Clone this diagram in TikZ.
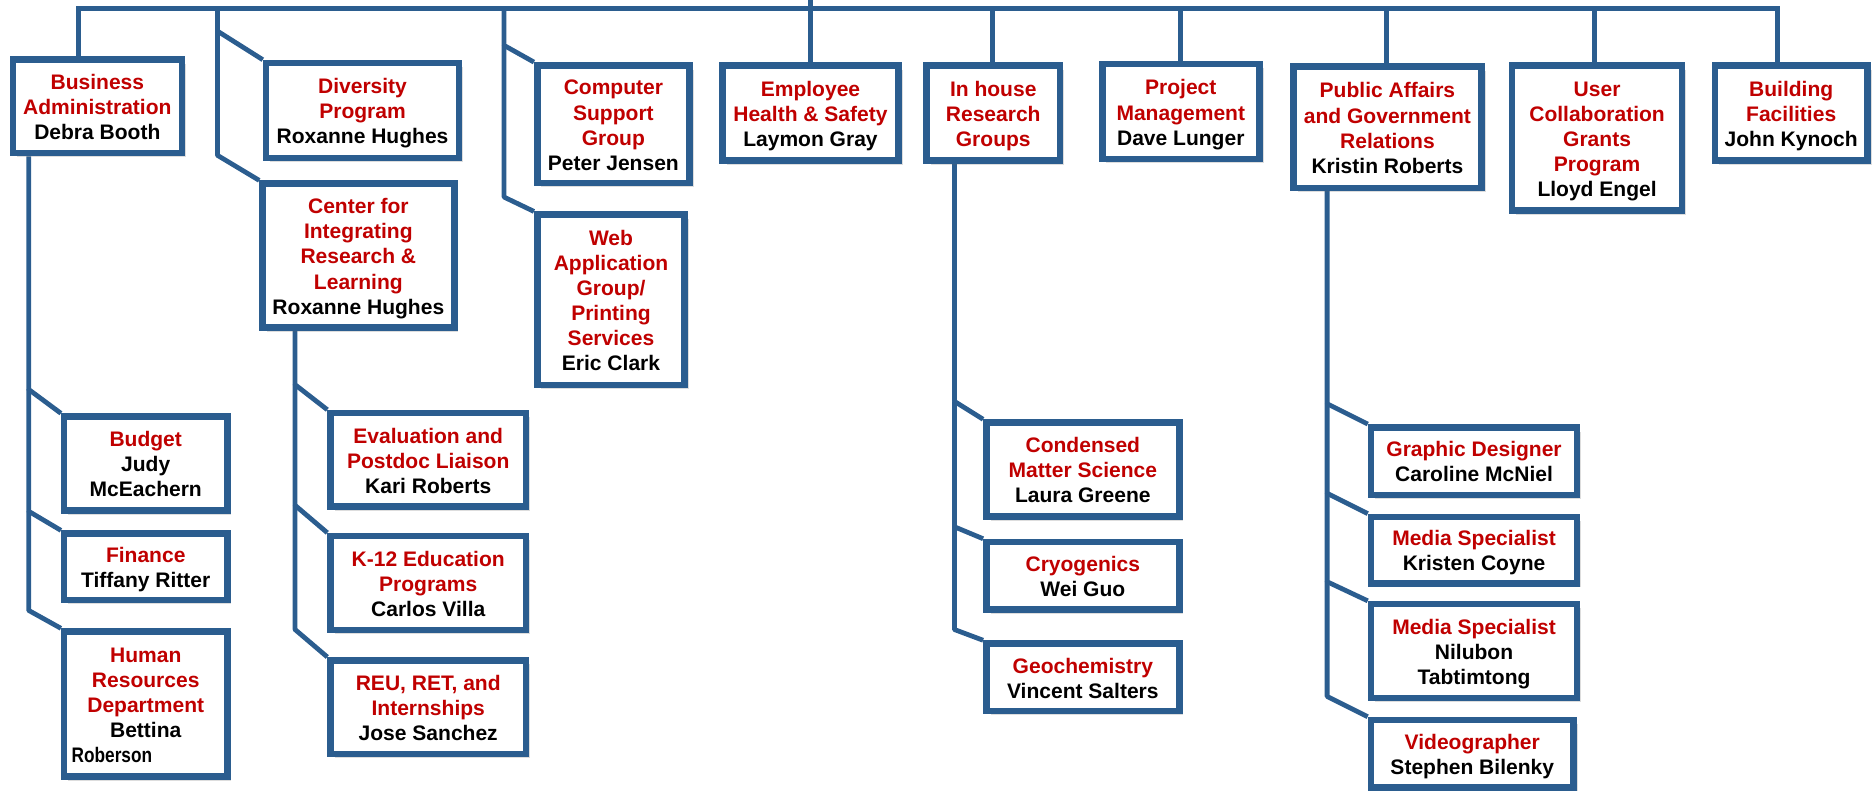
\documentclass[tikz,border=0pt]{standalone}
\usepackage{fontspec}
\setmainfont{Liberation Sans}
\usepackage{graphicx}
\usetikzlibrary{shadows,backgrounds}
\definecolor{tred}{HTML}{C00000}
\definecolor{tblue}{HTML}{2B5D8F}
\newcommand{\redtx}[1]{\textcolor{tred}{#1}}
\newcommand{\orgbox}[6]{\node[orgnode,minimum width={#4pt-#2pt-5.5pt},minimum height={#5pt-#3pt-5.5pt}] (#1) at ({(#2+#4)/2},{(#3+#5)/2}) {\rule{0pt}{18pt}#6\rule[-4pt]{0pt}{0pt}};}
\begin{document}
\begin{tikzpicture}[x=1pt,y=-1pt,
  orgnode/.style={draw=tblue,line width=5.5pt,fill=white,inner sep=0pt,align=center,
    font=\fontsize{17.6}{21}\selectfont\bfseries,text=black,
    drop shadow={shadow xshift=3.5pt,shadow yshift=-3.5pt,opacity=0.22,fill=black!60}},
  conn/.style={draw=tblue,line width=4pt,line join=round}]
\useasboundingbox (0,0) rectangle (1568,662);

% top level
\orgbox{ba}{8}{47}{155}{131}{\redtx{Business}\\\redtx{Administration}\\Debra Booth}
\orgbox{div}{220}{50}{387}{135}{\redtx{Diversity}\\\redtx{Program}\\Roxanne Hughes}
\orgbox{cirl}{217}{151}{383}{277}{\redtx{Center for}\\\redtx{Integrating}\\\redtx{Research \&}\\\redtx{Learning}\\Roxanne Hughes}
\orgbox{csg}{447}{52}{580}{156}{\redtx{Computer}\\\redtx{Support}\\\redtx{Group}\\Peter Jensen}
\orgbox{web}{447}{177}{576}{325}{\redtx{Web}\\\redtx{Application}\\\redtx{Group/}\\\redtx{Printing}\\\redtx{Services}\\Eric Clark}
\orgbox{emp}{602}{52}{755}{137}{\redtx{Employee}\\\redtx{Health \& Safety}\\Laymon Gray}
\orgbox{inh}{773}{52}{890}{137}{\redtx{In house}\\\redtx{Research}\\\redtx{Groups}}
\orgbox{pm}{920}{51}{1057}{136}{\redtx{Project}\\\redtx{Management}\\Dave Lunger}
\orgbox{pa}{1080}{53}{1243}{160}{\redtx{Public Affairs}\\\redtx{and Government}\\\redtx{Relations}\\Kristin Roberts}
\orgbox{ucg}{1263}{52}{1411}{179}{\redtx{User}\\\redtx{Collaboration}\\\redtx{Grants}\\\redtx{Program}\\Lloyd Engel}
\orgbox{bf}{1433}{52}{1566}{137}{\redtx{Building}\\\redtx{Facilities}\\John Kynoch}

% second level
\orgbox{bud}{51}{346}{193}{430}{\redtx{Budget}\\Judy\\McEachern}
\orgbox{fin}{51}{444}{193}{505}{\redtx{Finance}\\Tiffany Ritter}
\orgbox{hr}{51}{526}{193}{653}{\redtx{Human}\\\redtx{Resources}\\\redtx{Department}\\Bettina\\\makebox[130pt][l]{\hspace*{3pt}\scalebox{0.82}[1]{Roberson}}}
\orgbox{eva}{274}{343}{443}{427}{\redtx{Evaluation and}\\\redtx{Postdoc Liaison}\\Kari Roberts}
\orgbox{k12}{274}{446}{443}{530}{\redtx{K-12 Education}\\\redtx{Programs}\\Carlos Villa}
\orgbox{reu}{274}{550}{443}{634}{\redtx{REU, RET, and}\\\redtx{Internships}\\Jose Sanchez}
\orgbox{cms}{823}{351}{990}{435}{\redtx{Condensed}\\\redtx{Matter Science}\\Laura Greene}
\orgbox{cry}{823}{451}{990}{513}{\redtx{Cryogenics}\\Wei Guo}
\orgbox{geo}{823}{536}{990}{598}{\redtx{Geochemistry}\\Vincent Salters}
\orgbox{gd}{1145}{355}{1323}{417}{\redtx{Graphic Designer}\\Caroline McNiel}
\orgbox{ms1}{1145}{430}{1323}{491}{\redtx{Media Specialist}\\Kristen Coyne}
\orgbox{ms2}{1145}{503}{1323}{587}{\redtx{Media Specialist}\\Nilubon\\Tabtimtong}
\orgbox{vid}{1145}{600}{1320}{662}{\redtx{Videographer}\\Stephen Bilenky}

\begin{scope}[on background layer]
\coordinate (tba) at (66,7);
\coordinate (tdv) at (182,7);
\coordinate (tcs) at (422,7);
\coordinate (tem) at (679,0);
\coordinate (tin) at (831,7);
\coordinate (tpm) at (988,7);
\coordinate (tpa) at (1161,7);
\coordinate (tuc) at (1335,7);
\coordinate (tbf) at (1488,7);

\draw[conn,line join=miter] (ba.north -| tba) -- (tba) -- (tbf) -- (bf.north -| tbf);
\coordinate (dv1) at (182,26);
\coordinate (dv2) at (182,130);
\draw[conn] (tdv) -- (dv1) -- (div.north west);
\draw[conn] (dv1) -- (dv2) -- (cirl.north west);
\coordinate (cs1) at (422,38);
\coordinate (cs2) at (422,165);
\draw[conn] (tcs) -- (cs1) -- (csg.north west);
\draw[conn] (cs1) -- (cs2) -- (web.north west);
\draw[conn] (emp.north |- tem) -- (emp.north);
\draw[conn] (tin) -- (inh.north -| tin);
\draw[conn] (tpm) -- (pm.north -| tpm);
\draw[conn] (tpa) -- (pa.north -| tpa);
\draw[conn] (tuc) -- (ucg.north -| tuc);

% Business Administration subtree
\coordinate (b0) at (24,120);
\coordinate (b1) at (24,326);
\coordinate (b2) at (24,428);
\coordinate (b3) at (24,511);
\draw[conn] (ba.south -| b0) -- (b1) -- (bud.north west);
\draw[conn] (b1) -- (b2) -- (fin.north west);
\draw[conn] (b2) -- (b3) -- (hr.north west);

% Center subtree
\coordinate (c0) at (247,260);
\coordinate (c1) at (247,322);
\coordinate (c2) at (247,423);
\coordinate (c3) at (247,527);
\draw[conn] (cirl.south -| c0) -- (c1) -- (eva.north west);
\draw[conn] (c1) -- (c2) -- (k12.north west);
\draw[conn] (c2) -- (c3) -- (reu.north west);

% In house subtree
\coordinate (i0) at (799,130);
\coordinate (i1) at (799,336);
\coordinate (i2) at (799,441);
\coordinate (i3) at (799,527);
\draw[conn] (inh.south -| i0) -- (i1) -- (cms.north west);
\draw[conn] (i1) -- (i2) -- (cry.north west);
\draw[conn] (i2) -- (i3) -- (geo.north west);

% Public affairs subtree
\coordinate (p0) at (1111,150);
\coordinate (p1) at (1111,338);
\coordinate (p2) at (1111,413);
\coordinate (p3) at (1111,487);
\coordinate (p4) at (1111,583);
\draw[conn] (pa.south -| p0) -- (p1) -- (gd.north west);
\draw[conn] (p1) -- (p2) -- (ms1.north west);
\draw[conn] (p2) -- (p3) -- (ms2.north west);
\draw[conn] (p3) -- (p4) -- (vid.north west);
\end{scope}
\end{tikzpicture}
\end{document}
